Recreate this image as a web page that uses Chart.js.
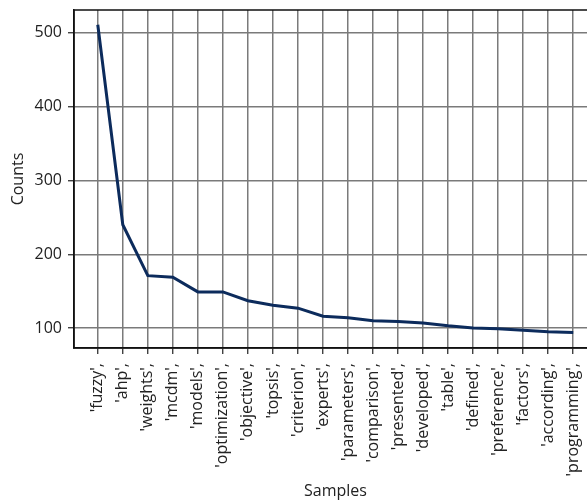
<!DOCTYPE html>
<html>
<head>
<meta charset="utf-8">
<script src="https://cdn.jsdelivr.net/npm/chart.js@4"></script>
<style>
  html, body { margin: 0; padding: 0; background: #fff; overflow: hidden; }
  #wrap { width: 600px; height: 504px; }
</style>
</head>
<body>
<div id="wrap"><canvas id="freq__chart" width="600" height="504"></canvas></div>
<script>
const samples = ["fuzzy", "ahp", "weights", "mcdm", "models", "optimization", "objective",
  "topsis", "criterion", "experts", "parameters", "comparison", "presented", "developed",
  "table", "defined", "preference", "factors", "according", "programming"]
const counts = [511, 240, 171, 169, 149, 149, 137, 131, 127, 116, 114, 110, 109, 107,
  103, 100, 99, 97, 95, 94]
const yTicks = [100, 200, 300, 400, 500]

const tickLabels = samples.map((s) => "'" + s + "',")
const points = counts.map((c, i) => ({ x: i, y: c }))

// box around the plot like matplotlib
const frame = {
  id: "frame",
  afterDraw(chart) {
    const { ctx, chartArea } = chart
    ctx.save()
    ctx.strokeStyle = "#111"
    ctx.lineWidth = 1.5
    ctx.strokeRect(chartArea.left, chartArea.top, chartArea.right - chartArea.left, chartArea.bottom - chartArea.top)
    ctx.restore()
  },
}

const font = { family: "Open Sans", size: 16 }
const gridStyle = { color: "#7a7a7a", lineWidth: 1.5, tickLength: 6, tickColor: "#222", tickWidth: 1.2 }

new Chart(document.getElementById("freq__chart"), {
  type: "line",
  data: {
    datasets: [
      {
        label: "Counts",
        data: points,
        borderColor: "#0c2b5c",
        borderWidth: 3,
        pointRadius: 0,
        tension: 0,
        fill: false,
      },
    ],
  },
  options: {
    responsive: false,
    animation: false,
    layout: { padding: { left: 0, top: 10, right: 3, bottom: 0 } },
    plugins: { legend: { display: false }, tooltip: { enabled: false } },
    scales: {
      x: {
        type: "linear",
        min: -0.95,
        max: samples.length - 0.05,
        afterFit: (scale) => {
          scale.height = 156
          scale.paddingLeft = 0
          scale.paddingRight = 0
        },
        afterBuildTicks: (scale) => { scale.ticks = samples.map((s, i) => ({ value: i })) },
        grid: gridStyle,
        border: { color: "#111", width: 1.5 },
        ticks: {
          minRotation: 90, maxRotation: 90, autoSkip: false, padding: 9,
          color: "#222", font: font,
          callback: (v) => tickLabels[v],
        },
        title: { display: true, text: "Samples", color: "#222", font: font, padding: { top: 0, bottom: 3 } },
      },
      y: {
        min: 73,
        max: 531,
        afterFit: (scale) => {
          scale.width = 74
          scale.paddingTop = 0
          scale.paddingBottom = 0
        },
        afterBuildTicks: (scale) => { scale.ticks = yTicks.map((v) => ({ value: v })) },
        grid: gridStyle,
        border: { color: "#111", width: 1.5 },
        ticks: { padding: 6, color: "#222", font: font },
        title: { display: true, text: "Counts", color: "#222", font: font, padding: { top: 9, bottom: 0 } },
      },
    },
  },
  plugins: [frame],
})
</script>
</body>
</html>
